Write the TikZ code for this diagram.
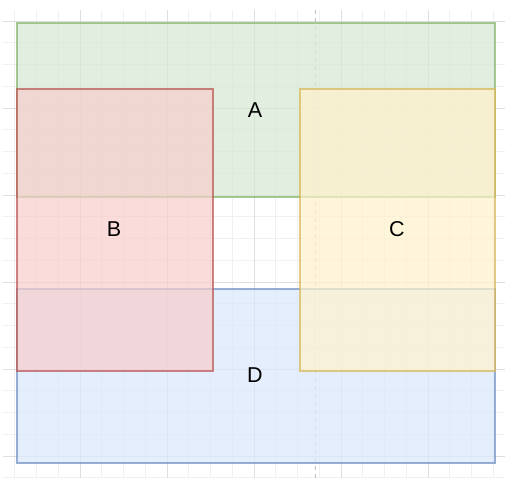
\documentclass[tikz,border=0pt]{standalone}
\usepackage{fontspec}
\setmainfont{Liberation Sans}
\begin{document}
\begin{tikzpicture}[x=1pt,y=-1pt,
  minorgrid/.style={draw=black!6,line width=0.8pt},
  majorgrid/.style={draw=black!13,line width=0.8pt},
  guide/.style={draw=black!25,line width=1pt,dash pattern=on 4pt off 4pt},
  setbox/.style={line width=2pt,opacity=0.7},
  lbl/.style={font=\fontsize{21.5}{21.5}\selectfont,text=black,inner sep=0pt}]
\useasboundingbox (0,0) rectangle (511,478);
\fill[white] (0,0) rectangle (511,478);
% grid
\foreach \k in {-3,...,19} {
  \pgfmathsetmacro{\xx}{80+21.75*\k}
  \draw[minorgrid] (\xx,10) -- (\xx,478);
}
\foreach \k in {0,...,21} {
  \pgfmathsetmacro{\yy}{21+21.75*\k}
  \draw[minorgrid] (3,\yy) -- (505,\yy);
}
\foreach \k in {0,...,4} {
  \pgfmathsetmacro{\xx}{80+87*\k}
  \draw[majorgrid] (\xx,10) -- (\xx,478);
}
\foreach \k in {0,...,5} {
  \pgfmathsetmacro{\yy}{21+87*\k}
  \draw[majorgrid] (3,\yy) -- (505,\yy);
}
\coordinate (gtop) at (315,10);
\coordinate (gbot) at (315,478);
\draw[guide] (gtop) -- (gbot);
% sets
\draw[setbox,fill={rgb,255:red,213;green,232;blue,212},draw={rgb,255:red,130;green,179;blue,102}]
  (16.5,23.5) rectangle (495,197);
\node[lbl] (A) at (255,110) {A};
\draw[setbox,fill={rgb,255:red,218;green,232;blue,252},draw={rgb,255:red,108;green,142;blue,191}]
  (16.5,289) rectangle (495,462.5);
\node[lbl] (D) at (255,375) {D};
\draw[setbox,fill={rgb,255:red,248;green,206;blue,204},draw={rgb,255:red,184;green,84;blue,80}]
  (16.5,89.5) rectangle (212.5,371);
\node[lbl] (B) at (114,229) {B};
\draw[setbox,fill={rgb,255:red,255;green,242;blue,204},draw={rgb,255:red,214;green,182;blue,86}]
  (299.5,89.5) rectangle (495,371);
\node[lbl] (C) at (397,229) {C};
\end{tikzpicture}
\end{document}
